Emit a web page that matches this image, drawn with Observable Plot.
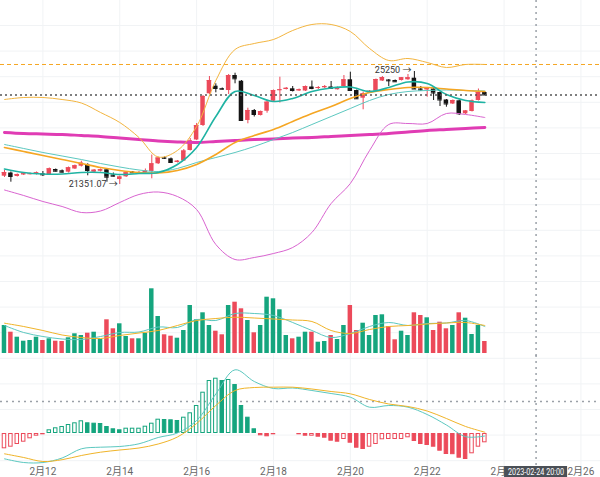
<!DOCTYPE html>
<html><head><meta charset="utf-8">
<script src="https://cdn.jsdelivr.net/npm/d3@7"></script>
<script src="https://cdn.jsdelivr.net/npm/@observablehq/plot@0.6"></script>
<style>
body{margin:0;background:#fff;}
#chart{position:relative;width:600px;height:477px;overflow:hidden;}
#chart > div{position:absolute;left:0;}
</style></head><body><div id="chart"></div>
<script>
// ---- data (BTC 4h candles) ----
const startTime = "2023-02-11T00:00:00Z";
const intervalHours = 4;
const opens = [21638,21748,21628,21686,21714,21710,21721,21686,21869,21824,
21776,21886,21983,22024,21776,21810,21859,21679,21524,21617,
21783,21755,21755,21800,22066,22273,22238,22111,22162,22525,
22887,23387,24481,24743,24663,24594,25112,24915,23560,23905,
23732,23880,24225,24594,24629,24653,24584,24577,24715,24670,
24688,24715,24619,24732,24964,24594,24329,24508,24570,24922,
24957,24939,24939,24964,25019,24646,24612,24646,24525,24267,
24129,24239,23791,23870,24250,24525];
const highs = [21835,21783,21714,21731,21748,21783,21800,21921,21886,21852,
21955,22024,22155,22066,21869,21886,21886,21748,21645,21783,
21800,21800,21886,22369,22300,22300,22266,22180,22559,22939,
23456,24422,25077,24826,24681,25147,25191,24939,23984,23939,
23887,24250,24612,25053,24698,24732,24646,24750,24922,24732,
24767,24905,24715,25112,25226,24612,24543,24594,24991,25077,
24974,24957,25043,25147,25250,24732,24681,24663,24543,24284,
24267,24267,23905,24267,24646,24543];
const lows = [21593,21431,21610,21662,21679,21679,21628,21662,21783,21748,
21748,21869,21955,21652,21748,21783,21431,21610,21351.07,21593,
21731,21731,21731,21548,22042,22214,22093,22093,22145,22507,
22870,23353,24456,24515,24612,24456,24826,23542,23446,23680,
23715,23811,24198,24163,24612,24543,24560,24560,24619,24629,
24663,24646,24612,24715,24577,24291,23929,24491,24560,24905,
24732,24881,24922,24946,24629,24560,24363,24250,24043,24018,
24112,23732,23767,23853,24232,24422];
const closes = [21766,21628,21697,21721,21721,21755,21686,21893,21810,21776,
21928,21997,22086,21835,21845,21859,21604,21638,21610,21755,
21755,21766,21817,22066,22266,22255,22111,22155,22507,22852,
23387,24387,24939,24663,24639,25112,24998,23560,23905,23767,
23870,24191,24594,24619,24670,24594,24619,24732,24663,24698,
24732,24663,24698,24964,24594,24308,24481,24567,24974,25043,
24929,24895,25033,25033,24646,24612,24663,24508,24267,24129,
24250,23791,23887,24232,24525,24440];
const volumes = [28000,21300,16300,12300,13000,16300,13000,14700,12300,12000,
15700,19700,18000,20300,21300,14000,33700,24700,29700,17000,
14700,14700,20300,64700,37000,18700,17300,15300,23000,48000,
33700,40700,28000,22300,18700,48000,51300,44700,33000,20700,
28000,56300,54700,43700,18000,14700,16300,21300,21300,11300,
12000,18000,14000,28000,48000,23000,30300,18000,38000,38700,
27000,13700,22300,18000,40700,38000,35700,23000,31300,24700,
28000,40700,35300,19000,28000,12000];
const macdHist = [-153,-137,-110,-87,-53,-27,-13,37,57,70,
90,107,127,107,103,100,70,47,37,53,
53,53,73,103,143,140,137,130,163,207,
280,413,530,553,530,540,490,280,163,47,
-23,-33,-13,7,7,-7,-13,-27,-27,-37,
-47,-77,-87,-60,-97,-147,-160,-137,-110,-63,
-60,-60,-60,-43,-80,-110,-120,-137,-177,-210,
-212,-247,-260,-203,-137,-93];

// indicator lines, sampled every 3rd candle
const sampleStep = 3;
const bollUpper = [24284,24353,24353,24284,24163,23836,23491,22973,22300,22525,23353,24940,26009,26216,26354,26665,26872,26872,26630,26044,25630,25699,25561,25388,25492,25492];
const bollMid   = [22732,22594,22456,22335,22214,22076,21955,21852,21800,21904,22111,22283,22456,22663,22904,23146,23422,23698,23974,24250,24457,24560,24595,24612,24595,24577];
const bollLower = [21162,20972,20765,20593,20386,20437,20731,21007,21093,20938,20489,19282,18764,18833,18971,19178,19696,20696,21386,22525,23422,23456,23456,23801,23767,23663];
const maOrange  = [22628,22490,22352,22214,22076,21938,21835,21766,21748,21835,22042,22387,22801,23042,23249,23525,23801,24043,24319,24526,24629,24698,24698,24646,24595,24560];
const maTeal    = [21886,21766,21714,21714,21766,21766,21697,21731,21766,22042,22628,23698,24560,24422,24215,24319,24560,24681,24715,24560,24698,24888,24836,24457,24250,24181];
const maMagenta = [23146,23111,23094,23077,23042,23008,22956,22904,22852,22818,22801,22835,22870,22904,22921,22956,22973,23008,23042,23077,23111,23163,23215,23249,23284,23318];
const volMaTeal   = [28000,21000,17000,14500,14000,17000,21000,21500,26500,26000,34000,33000,40000,40000,38000,31000,23000,16000,20000,27000,31000,28000,30000,30500,33000,27000];
const volMaOrange = [30300,27000,23000,18500,16000,15000,18000,20500,23000,28000,33000,35000,36300,35500,34500,33500,32000,23000,20000,24000,27000,28000,29500,30500,31000,28000];
const macdDif = [-253,-290,-290,-245,-153,-137,-130,-103,-40,5,130,395,637,520,450,455,430,400,363,263,280,263,190,85,-32,-25];
const macdDea = [-203,-240,-280,-262,-220,-187,-165,-145,-105,-35,100,280,430,460,463,463,445,420,397,340,295,270,225,150,70,13];

const tickDates  = ["2023-02-12","2023-02-14","2023-02-16","2023-02-18","2023-02-20","2023-02-22","2023-02-24","2023-02-26"];
const tickLabels = ["2月12","2月14","2月16","2月18","2月20","2月22","2月24","2月26"];
const crosshairTime = "2023-02-24T20:00:00Z";
const crosshairLabel = "2023-02-24 20:00";
const crosshairMacd = 320;
const xDomain = ["2023-02-10T21:31:00Z","2023-02-26T12:14:00Z"];

// ---- build ----
const H = 3600e3, DAY = 24 * H;
const t0 = Date.parse(startTime);
const RED = "#ec4a5a", GREEN = "#15a57e", BLACK = "#151515";
const candles = opens.map((o, i) => {
  const t = t0 + i * intervalHours * H;
  return {t: new Date(t), x1: new Date(t - 1.4 * H), x2: new Date(t + 1.4 * H),
    o, h: highs[i], l: lows[i], c: closes[i], up: closes[i] >= o,
    v: volumes[i], m: macdHist[i], grow: i === 0 || macdHist[i] >= macdHist[i - 1]};
});
const series = arr => arr.map((v, k) => ({t: new Date(t0 + k * sampleStep * intervalHours * H), v}));
const xOpt = {type: "utc", domain: xDomain.map(d => new Date(d)), range: [0, 600], axis: null};
const font = 'Roboto,"Noto Sans CJK SC",sans-serif';
const baseStyle = {background: "transparent", overflow: "visible", fontFamily: font, fontSize: "10px"};
const crossT = new Date(crosshairTime);
const crossRule = () => Plot.ruleX([crossT], {stroke: "#9ba1a8", strokeWidth: 1.5, strokeDasharray: "2,4"});
const ticks = tickDates.map((d, i) => ({t: new Date(d + "T00:00:00Z"), label: tickLabels[i]}));
const lineOf = (arr, stroke, strokeWidth) => Plot.line(series(arr), {x: "t", y: "v", stroke, strokeWidth, curve: "catmull-rom"});

const bg = Plot.plot({
  width: 600, height: 477, margin: 0, style: {...baseStyle, background: "#fff"},
  x: xOpt, y: {domain: [0, 477], range: [0, 477], axis: null},
  marks: [
    Plot.ruleY(d3.range(25, 470, 25.6), {stroke: "#f1f3f5"}),
    Plot.ruleX(ticks, {x: "t", stroke: "#f1f3f5"})
  ]
});

const lowC = candles.reduce((a, b) => b.l < a.l ? b : a);
const highC = candles.reduce((a, b) => b.h > a.h ? b : a);

const main = Plot.plot({
  width: 600, height: 270, margin: 0, style: baseStyle,
  x: xOpt, y: {domain: [18384.5, 27699.5], range: [270, 0], axis: null},
  color: {type: "identity"},
  marks: [
    crossRule(),
    Plot.ruleY([bollUpper[bollUpper.length - 1]], {stroke: "#f5a623", strokeWidth: 1, strokeDasharray: "4,3"}),
    Plot.ruleX(candles, {x: "t", y1: "l", y2: "h", stroke: d => d.up ? RED : BLACK}),
    Plot.rect(candles, {x1: "x1", x2: "x2", y1: "o", y2: "c", fill: d => d.up ? RED : BLACK}),
    Plot.ruleY(candles, {x1: "x1", x2: "x2", y: "c", stroke: d => d.up ? RED : BLACK}),
    lineOf(maMagenta, "#e03cb4", 3),
    lineOf(bollUpper, "#f3b53f", 1),
    lineOf(bollLower, "#d964d0", 1),
    lineOf(bollMid, "#5cc8c0", 1),
    lineOf(maOrange, "#f5a623", 1.6),
    lineOf(maTeal, "#1fb3a3", 1.6),
    Plot.ruleY([closes[closes.length - 1]], {stroke: "#555", strokeWidth: 1.5, strokeDasharray: "2,3"}),
    Plot.text([lowC], {x: "t", y: "l", text: d => `${d.l} →`, textAnchor: "end", dx: -2, fill: "#333", fontSize: 9}),
    Plot.text([highC], {x: "t", y: "h", text: d => `${d.h} →`, textAnchor: "end", dx: -3, dy: -1, fill: "#333", fontSize: 9})
  ]
});

const vol = Plot.plot({
  width: 600, height: 90, margin: 0, style: baseStyle,
  x: xOpt, y: {domain: [0, 80000], range: [83, 3], axis: null},
  color: {type: "identity"},
  marks: [
    crossRule(),
    Plot.rect(candles, {x1: "x1", x2: "x2", y1: 0, y2: "v", fill: d => d.up ? GREEN : RED}),
    lineOf(volMaTeal, "#5cc8c0", 1),
    lineOf(volMaOrange, "#f0b429", 1)
  ]
});

const macd = Plot.plot({
  width: 600, height: 122, margin: 0, style: baseStyle,
  x: xOpt, y: {domain: [-300, 700], range: [108, 8], axis: null},
  color: {type: "identity"},
  marks: [
    crossRule(),
    Plot.ruleY([crosshairMacd], {stroke: "#9ba1a8", strokeWidth: 1.5, strokeDasharray: "2,4"}),
    Plot.rect(candles, {x1: "x1", x2: "x2", y1: 0, y2: "m",
      fill: d => d.grow ? "#fff" : (d.m >= 0 ? GREEN : RED),
      stroke: d => d.m >= 0 ? GREEN : RED, strokeWidth: 1, inset: 0.5}),
    lineOf(macdDif, "#5cc8c0", 1),
    lineOf(macdDea, "#f0b429", 1),
    Plot.text(ticks, {x: "t", y: -385, text: "label", fill: "#666"}),
    Plot.rect([crossT], {x1: d => new Date(+d - 0.82 * DAY), x2: d => new Date(+d + 0.82 * DAY), y1: -330, y2: -445, fill: "#4b5057"}),
    Plot.text([crossT], {x: d => d, y: -385, text: () => crosshairLabel, fill: "#fff", fontSize: 9})
  ]
});

// fit the crosshair label into its box
d3.select(macd).selectAll("text").filter(function () { return this.textContent === crosshairLabel; })
  .attr("textLength", 56).attr("lengthAdjust", "spacingAndGlyphs");

const chart = document.getElementById("chart");
[[bg, 0], [main, 0], [vol, 270], [macd, 355]].forEach(([svg, top]) => {
  const div = document.createElement("div");
  div.style.top = top + "px";
  div.appendChild(svg);
  chart.appendChild(div);
});
</script></body></html>
